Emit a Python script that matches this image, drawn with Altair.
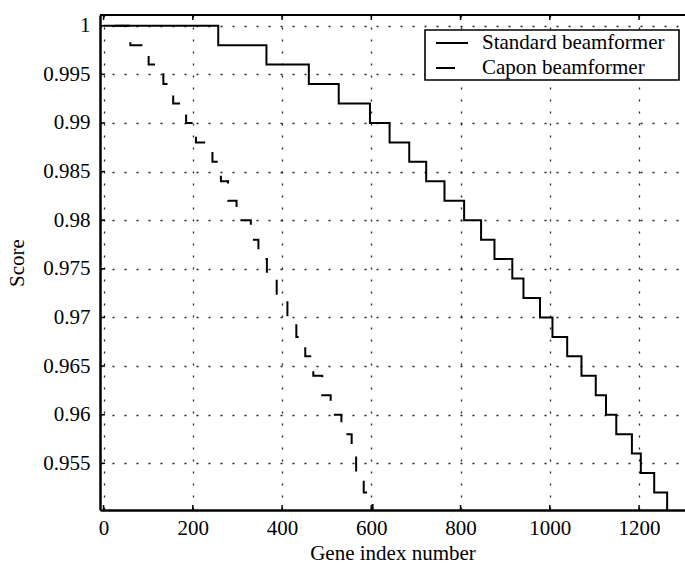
import altair as alt
import pandas as pd

# ---- data ----
series_names = ["Standard beamformer", "Capon beamformer"]

std_x = [0, 257, 365, 460, 527, 597, 641, 685, 723, 764, 808, 846, 876, 916,
         941, 978, 1006, 1039, 1071, 1103, 1126, 1149, 1184, 1204, 1234, 1263]
std_y = [1.000, 0.998, 0.996, 0.994, 0.992, 0.990, 0.988, 0.986, 0.984, 0.982,
         0.980, 0.978, 0.976, 0.974, 0.972, 0.970, 0.968, 0.966, 0.964, 0.962,
         0.960, 0.958, 0.956, 0.954, 0.952, 0.950]

cap_x = [0, 60, 101, 134, 156, 185, 207, 244, 263, 279, 298, 330, 347, 366,
         388, 412, 432, 452, 470, 490, 509, 533, 556, 566, 583, 603]
cap_y = [1.000, 0.998, 0.996, 0.994, 0.992, 0.990, 0.988, 0.986, 0.984, 0.982,
         0.980, 0.978, 0.976, 0.974, 0.972, 0.970, 0.968, 0.966, 0.964, 0.962,
         0.960, 0.958, 0.956, 0.954, 0.952, 0.950]

x_ticks = [0, 200, 400, 600, 800, 1000, 1200]
y_ticks = [0.955, 0.96, 0.965, 0.97, 0.975, 0.98, 0.985, 0.99, 0.995, 1.0]

# ---- tables ----
lines = pd.DataFrame(
    {"x": std_x + cap_x,
     "y": std_y + cap_y,
     "series": [series_names[0]] * len(std_x) + [series_names[1]] * len(cap_x),
     "order": list(range(len(std_x))) + list(range(len(cap_x)))}
)
xt = pd.DataFrame({"x": x_ticks})
yt = pd.DataFrame({"y": y_ticks})
leg = pd.DataFrame({"name": series_names})

W, H = 585, 495
FONT = "Liberation Serif"
DASH = [15, 17]

xscale = alt.Scale(domain=[-8, 1303], nice=False, zero=False)
yscale = alt.Scale(domain=[0.9502, 1.0011], nice=False, zero=False)

grid = dict(grid=True, gridDash=[2, 10], gridColor="#222222", gridWidth=1.3)
common = dict(domainColor="black", domainWidth=2.5, ticks=False,
              labelFont=FONT, labelFontSize=21, labelColor="black",
              titleFont=FONT, titleFontSize=21, titleFontWeight="normal",
              titleColor="black", labelFlush=False, labelOverlap=False, **grid)

xaxis = alt.Axis(values=x_ticks, title="Gene index number", format="d",
                 labelPadding=7, titlePadding=4, **common)
yaxis = alt.Axis(values=y_ticks, title="Score", format=".3~f", labelPadding=10,
                 titlePadding=15, **common)

X = lambda: alt.X("x:Q", scale=xscale, axis=xaxis)
Y = lambda: alt.Y("y:Q", scale=yscale, axis=yaxis)

line_layer = alt.Chart(lines).mark_line(
    interpolate="step-after", color="black", strokeWidth=2, clip=True,
    strokeDashOffset=20.7,
).encode(
    x=X(), y=Y(),
    order="order:Q",
    strokeDash=alt.StrokeDash(
        "series:N",
        scale=alt.Scale(domain=series_names, range=[[1, 0], DASH]),
        legend=None,
    ),
)

bottom_ticks = alt.Chart(xt).mark_rule(color="black", strokeWidth=1.5).encode(
    x=X(), y=alt.value(H), y2=alt.value(H - 5))
top_ticks = alt.Chart(xt).mark_rule(color="black", strokeWidth=1.5).encode(
    x=X(), y=alt.value(0), y2=alt.value(5))
left_ticks = alt.Chart(yt).mark_rule(color="black", strokeWidth=1.5).encode(
    y=Y(), x=alt.value(0), x2=alt.value(5))
top_border = alt.Chart(pd.DataFrame({"a": [0]})).mark_rule(
    color="black", strokeWidth=2).encode(
    x=alt.value(0), x2=alt.value(W), y=alt.value(0))

# ---- legend (box, sample lines, labels) ----
legend_box = alt.Chart(pd.DataFrame({"a": [0]})).mark_rect(
    fill="white", stroke="black", strokeWidth=1.6).encode(
    x=alt.value(325), x2=alt.value(579), y=alt.value(15), y2=alt.value(65))
leg_std_line = alt.Chart(pd.DataFrame({"a": [0]})).mark_rule(
    color="black", strokeWidth=2).encode(
    x=alt.value(336), x2=alt.value(368), y=alt.value(28))
leg_cap_line = alt.Chart(pd.DataFrame({"a": [0]})).mark_rule(
    color="black", strokeWidth=2, strokeDash=[19, 13]).encode(
    x=alt.value(336), x2=alt.value(368), y=alt.value(53))
leg_std_text = alt.Chart(leg.iloc[[0]]).mark_text(
    font=FONT, fontSize=21, color="black", align="left", baseline="middle").encode(
    text="name:N", x=alt.value(382), y=alt.value(28))
leg_cap_text = alt.Chart(leg.iloc[[1]]).mark_text(
    font=FONT, fontSize=21, color="black", align="left", baseline="middle").encode(
    text="name:N", x=alt.value(382), y=alt.value(53))

chart = alt.layer(
    line_layer, bottom_ticks, top_ticks, left_ticks, top_border,
    legend_box, leg_std_line, leg_cap_line, leg_std_text, leg_cap_text
).properties(
    width=W, height=H,
    autosize=alt.AutoSizeParams(type="none"),
    padding={"left": 100, "top": 15, "right": 0, "bottom": 58},
    background="white",
).configure_view(strokeWidth=0)

chart.save("out.html", embed_options={"renderer": "svg", "actions": False})
